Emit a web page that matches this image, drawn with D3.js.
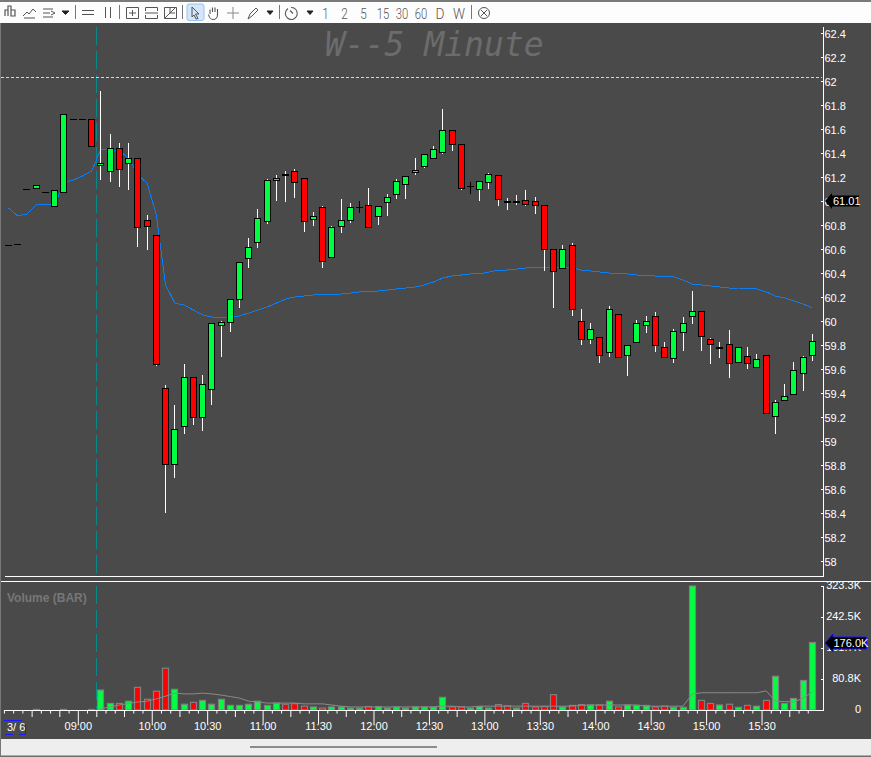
<!DOCTYPE html>
<html><head><meta charset="utf-8">
<script src="https://cdn.jsdelivr.net/npm/d3@7"></script>
<style>html,body{margin:0;padding:0;background:#4a4a4a;overflow:hidden}svg{display:block}</style>
</head><body><div id="chart"></div>
<script>
const opens=[60.633,60.642,61.1,61.1,61.075,60.95,61.067,61.683,61.683,61.683,
61.292,61.242,61.442,61.308,61.358,60.842,60.717,59.442,58.8,59.117,
59.533,59.192,59.425,59.958,59.983,60.175,60.517,60.65,60.825,61.167,
61.217,61.25,61.192,60.842,60.95,60.525,60.783,60.833,60.95,60.967,
60.867,60.983,61.05,61.133,61.233,61.283,61.35,61.4,61.592,61.475,
61.125,61.092,61.15,61.217,60.992,60.992,61.008,61,60.967,60.6,
60.433,60.633,60,59.842,59.867,59.733,60.058,59.708,59.817,59.958,
60.042,59.783,59.683,59.9,60.033,60.083,59.85,59.775,59.808,59.65,
59.708,59.608,59.717,59.2,59.333,59.383,59.558,59.708];
const highs=[60.633,60.642,61.1,61.133,61.075,61.092,61.725,61.683,61.683,61.683,
61.917,61.558,61.483,61.483,61.358,60.883,60.717,59.467,59.3,59.642,
59.533,59.55,59.983,60,60.183,60.492,60.692,60.933,61.183,61.217,
61.25,61.267,61.192,60.908,60.958,60.792,61.017,60.983,61,61.108,
60.958,61.058,61.183,61.208,61.358,61.392,61.458,61.767,61.592,61.475,
61.158,61.167,61.233,61.217,61.025,61.05,61.092,61.033,60.967,60.6,
60.633,60.65,60.1,59.983,59.867,60.125,60.058,59.8,60.008,60.042,
60.075,59.825,59.933,60.033,60.25,60.083,59.858,59.825,59.925,59.783,
59.783,59.725,59.717,59.342,59.475,59.658,59.708,59.892];
const lows=[60.633,60.642,61.1,61.1,61.075,60.95,61.067,61.683,61.683,61.45,
61.175,61.158,61.117,61.092,60.617,60.592,59.625,58.4,58.692,59.058,
59.133,59.083,59.3,59.7,59.908,60.108,60.442,60.608,60.808,61,
60.992,61.025,60.742,60.792,60.442,60.525,60.733,60.817,60.9,60.775,
60.8,60.875,61.017,61.017,61.217,61.275,61.35,61.392,61.417,61.092,
61.058,61,61.1,60.958,60.925,60.967,60.958,60.892,60.417,60.108,
60.433,60.042,59.8,59.808,59.65,59.7,59.692,59.542,59.817,59.9,
59.742,59.692,59.65,59.75,59.975,59.75,59.642,59.692,59.525,59.65,
59.6,59.608,59.225,59.058,59.333,59.383,59.417,59.667];
const closes=[60.633,60.642,61.1,61.133,61.075,61.092,61.725,61.683,61.683,61.45,
61.317,61.442,61.258,61.358,60.775,60.783,59.633,58.8,59.1,59.533,
59.192,59.475,59.983,59.992,60.183,60.492,60.617,60.858,61.175,61.192,
61.217,61.15,60.825,60.875,60.492,60.783,60.842,60.95,60.95,60.775,
60.958,61.033,61.167,61.208,61.258,61.392,61.433,61.592,61.467,61.1,
61.125,61.167,61.225,61.008,60.992,60.992,60.967,60.958,60.592,60.408,
60.6,60.092,59.842,59.933,59.708,60.1,59.692,59.8,59.983,60,
59.792,59.692,59.917,59.983,60.083,59.867,59.8,59.775,59.642,59.783,
59.642,59.683,59.225,59.325,59.375,59.592,59.7,59.833];
const vwap=[60.942,60.875,60.892,60.967,60.967,60.967,61.158,61.175,61.208,61.25,
61.433,61.425,61.417,61.358,61.217,61.15,60.883,60.3,60.15,60.133,
60.092,60.05,60.033,60.033,60.033,60.042,60.067,60.092,60.117,60.15,
60.183,60.2,60.208,60.217,60.217,60.225,60.225,60.233,60.242,60.25,
60.25,60.258,60.267,60.275,60.283,60.3,60.325,60.358,60.375,60.383,
60.392,60.392,60.408,60.425,60.425,60.433,60.442,60.442,60.442,60.442,
60.442,60.442,60.425,60.417,60.408,60.4,60.4,60.392,60.383,60.383,
60.375,60.375,60.367,60.342,60.308,60.3,60.292,60.283,60.275,60.275,
60.267,60.267,60.242,60.208,60.192,60.167,60.142,60.108];
const volumes=[0,0,0,1.5,0,0,1.5,0,0,1.5,
52,17,17,23,59,28,49,109,54,15,
20,25,15,28,12,12,15,23,12,18,
15,16.5,10,8,5,8,8,5,5,9,
9,5,8,5,8,8,8,33,8,8,
5,9,5,14,11,5,17,8,9,40,
8,12,14,13,13,23,8,13,12,12,
8,10,7,7,323.3,25,17,13,15,7,
12,10,25,88,17,30,77,176];
const volumeAvgStart=10;
const volumeAvg=[3,8,13,17,21,23,29,36,44,42,
42,44,42,39,35,31,23,21,18,18,
18,18,16,16,16,13,10,8,8,8,
8,8,8,8,8,8,8,10,10,8,
8,10,10,10,10,10,10,10,10,10,
10,10,12,13,13,13,13,13,13,10,
10,10,10,10,42,45,45,45,45,45,
45,45,50,23,22,21,31,47];
const downDojiVolume=[30,54];
const crossBars=[38,50];
const priceTicks=[62.4,62.2,62,61.8,61.6,61.4,61.2,61,60.8,60.6,60.4,60.2,60,59.8,59.6,59.4,59.2,59,58.8,58.6,58.4,58.2,58];
const volumeTicks=[0,80.8,161.7,242.5,323.3];
const timeTickBars=[8,16,22,28,34,40,46,52,58,64,70,76,82];
const timeTickLabels=["09:00","10:00","10:30","11:00","11:30","12:00","12:30","13:00","13:30","14:00","14:30","15:00","15:30"];
const midTickBars=[3,6,10,13,19,25,31,37,43,49,55,61,67,73,79,85];
const intervalButtons=["1","2","5","15","30","60","D","W"];
const sessionOpenBar=10;
const refLine=62.03, lastPrice=61.01, lastVolume=176;
const title="W--5 Minute", volumeTitle="Volume (BAR)", dateLabel="3/ 6";

const W=871,H=757;
const svg=d3.select("#chart").append("svg").attr("width",W).attr("height",H)
  .style("font-family","'Liberation Sans',Arial,sans-serif");
const x=d3.scaleLinear().domain([0,88]).range([3.9,817]);
const y=d3.scaleLinear().domain([58,62.4]).range([561,33]);
const v=d3.scaleLinear().domain([0,323.3]).range([710,586]);
const GREEN="#00ff41",RED="#ff0000";
const left=i=>Math.round(x(i+.5)-3.5);

svg.append("rect").attr("width",W).attr("height",H).attr("fill","#4a4a4a");

// session line
[[27,573],[586,710]].forEach(r=>svg.append("line").attr("x1",96.5).attr("x2",96.5)
  .attr("y1",r[0]).attr("y2",r[1]).attr("stroke","#048a8a").attr("stroke-width",1).attr("stroke-dasharray","18 6"));
svg.append("line").attr("x1",1).attr("x2",822).attr("y1",Math.round(y(refLine))+.5).attr("y2",Math.round(y(refLine))+.5)
  .attr("stroke","#d8d8d8").attr("stroke-dasharray","3 2");

svg.append("text").attr("x",325).attr("y",56).attr("font-family","'DejaVu Sans Mono',monospace").attr("font-style","italic")
  .attr("font-size",33).attr("fill","#6c6c6c").text(title);

// vwap
svg.append("path").attr("fill","none").attr("stroke","#0a7df2").attr("stroke-width",1).attr("shape-rendering","crispEdges")
  .attr("d",d3.line().x((d,i)=>x(i+.5)).y(d=>y(d))(vwap));

// candles
const bars=d3.range(opens.length);
const g=svg.append("g").attr("shape-rendering","crispEdges");
const withWick=bars.filter(i=>highs[i]!==lows[i]);
g.selectAll(".wick").data(withWick).join("line").attr("class","wick")
  .attr("x1",i=>left(i)+3.5).attr("x2",i=>left(i)+3.5)
  .attr("y1",i=>Math.round(y(highs[i]))).attr("y2",i=>Math.round(y(lows[i])))
  .attr("stroke",i=>crossBars.includes(i)?"#000":"#fff");
const bodies=bars.filter(i=>opens[i]!==closes[i]);
g.selectAll(".body").data(bodies).join("rect").attr("class","body")
  .attr("x",i=>left(i)+.5).attr("width",6)
  .attr("y",i=>Math.round(y(Math.max(opens[i],closes[i])))+.5)
  .attr("height",i=>Math.max(1,Math.round(y(Math.min(opens[i],closes[i])))-Math.round(y(Math.max(opens[i],closes[i])))-1))
  .attr("fill",i=>closes[i]>opens[i]?GREEN:RED).attr("stroke","#000");
const dojis=bars.filter(i=>opens[i]===closes[i]);
g.selectAll(".doji").data(dojis).join("rect").attr("class","doji")
  .attr("x",i=>left(i)).attr("width",7)
  .attr("y",i=>Math.round(y(opens[i]))-(highs[i]!==lows[i]&&!crossBars.includes(i)?1:0))
  .attr("height",i=>highs[i]!==lows[i]&&!crossBars.includes(i)?2:1).attr("fill","#000");

// price axis
const pa=svg.append("g").attr("transform","translate(823,0)")
  .call(d3.axisRight(y).tickValues(priceTicks).tickSizeInner(-2).tickSizeOuter(0).tickPadding(1.5).tickFormat(d3.format("~g")));
pa.select(".domain").remove();
pa.selectAll("line").attr("stroke","#fff");
pa.selectAll("text").attr("fill","#fff").attr("font-size",11).attr("dy","0.42em").attr("font-family","'Liberation Sans',Arial,sans-serif");
svg.append("line").attr("x1",823.5).attr("x2",823.5).attr("y1",27).attr("y2",576.5).attr("stroke","#fff");
svg.append("line").attr("x1",5).attr("x2",824).attr("y1",576.5).attr("y2",576.5).attr("stroke","#fff");
svg.append("line").attr("x1",1).attr("x2",W).attr("y1",581.5).attr("y2",581.5).attr("stroke","#fff");

// volume pane
svg.append("text").attr("x",7).attr("y",601.5).attr("font-weight","bold").attr("font-size",12).attr("fill","#777").text(volumeTitle);
const vbars=bars.filter(i=>volumes[i]>0);
const vg=svg.append("g");
vg.selectAll("rect").data(vbars).join("rect")
  .attr("x",i=>left(i)+.5).attr("width",6)
  .attr("y",i=>v(volumes[i])).attr("height",i=>v(0)-v(volumes[i]))
  .attr("fill",i=>(closes[i]>opens[i]||(closes[i]===opens[i]&&!downDojiVolume.includes(i)))?GREEN:RED)
  .attr("stroke","#808080").attr("stroke-width",1.2);
svg.append("path").attr("fill","none").attr("stroke","#8a8a8a").attr("stroke-width",1)
  .attr("d",d3.line().x((d,i)=>x(i+volumeAvgStart+.5)).y(d=>v(d))(volumeAvg));

const va=svg.append("g").attr("transform","translate(823,0)")
  .call(d3.axisRight(v).tickValues(volumeTicks).tickSizeInner(-2).tickSizeOuter(0).tickPadding(0)
  .tickFormat(d=>d===0?"0":d.toFixed(1)+"K"));
va.select(".domain").remove();
va.selectAll("line").attr("stroke","#fff");
va.selectAll("text").attr("fill","#fff").attr("font-size",11).attr("text-anchor","end").attr("x",38).attr("dy","0.2em")
  .attr("font-family","'Liberation Sans',Arial,sans-serif");
svg.append("line").attr("x1",823.5).attr("x2",823.5).attr("y1",586).attr("y2",710).attr("stroke","#fff");

// time axis
const ta=svg.append("g").attr("transform","translate(0,710)")
  .call(d3.axisBottom(x).tickValues(d3.range(0,88)).tickSize(3.5).tickFormat(d=>{const k=timeTickBars.indexOf(d);return k>=0?timeTickLabels[k]:""}));
ta.select(".domain").remove();
ta.selectAll(".tick line").attr("stroke","#fff").attr("y2",d=>timeTickBars.includes(d)?14:midTickBars.includes(d)?7:3.5);
ta.selectAll(".tick text").attr("fill","#fff").attr("font-size",11).attr("y",12).attr("font-family","'Liberation Sans',Arial,sans-serif");
svg.append("line").attr("x1",4).attr("x2",824).attr("y1",710.5).attr("y2",710.5).attr("stroke","#fff");
svg.append("text").attr("x",7).attr("y",731).attr("fill","#fff").attr("font-size",11).attr("xml:space","preserve").text(dateLabel);
[[4,22,720.5,720.5],[5,13,734.5,734.5],[19,26,734.5,734.5],[25.5,25.5,724,735]].forEach(l=>
  svg.append("line").attr("x1",l[0]).attr("x2",l[1]).attr("y1",l[2]).attr("y2",l[3]).attr("stroke","#1a1aff").attr("stroke-width",1));

// value markers
function marker(cy,tip,headEnd,right,halfH,halfB,stroke,label,tx){
  svg.append("path").attr("d",`M${tip},${cy}L${headEnd},${cy-halfH}V${cy-halfB}H${right}V${cy+halfB}H${headEnd}V${cy+halfH}Z`)
    .attr("fill","#000").attr("stroke",stroke).attr("stroke-width",stroke==="none"?0:1);
  svg.append("text").attr("x",tx).attr("y",cy+4).attr("fill","#fff").attr("font-size",11).text(label);
}
marker(Math.round(y(lastPrice))+1,825,832,859,8,5.5,"none",lastPrice.toFixed(2),833);
marker(Math.round(v(lastVolume))+1,825,833,866.5,9,6,"#1414ff",lastVolume.toFixed(1)+"K",833.5);

// bottom bar
svg.append("rect").attr("x",0).attr("y",739).attr("width",W).attr("height",17).attr("fill","#eeeeee");
svg.append("rect").attr("x",0).attr("y",755.5).attr("width",W).attr("height",2).attr("fill","#6d6d6d");
svg.append("rect").attr("x",250).attr("y",746).attr("width",187).attr("height",2).attr("fill","#8c8c8c");
svg.append("rect").attr("x",0).attr("y",0).attr("width",1).attr("height",H).attr("fill","#777");

// toolbar
const tb=svg.append("g");
tb.append("rect").attr("x",0).attr("y",0).attr("width",W).attr("height",23).attr("fill","#fdfdfd");
tb.append("rect").attr("x",0).attr("y",0).attr("width",W).attr("height",2).attr("fill","#7a7a7a");
const ink="#555";
const p=(d,o={})=>tb.append("path").attr("d",d).attr("fill",o.fill||"none").attr("stroke",o.stroke||ink).attr("stroke-width",o.w||1);
[75.5,119.5,182.5,279.5,471.5].forEach(s=>p(`M${s},5V19`,{stroke:"#777"}));
p("M5,16V10H8V16M8,16V6H11V16M11,16V10H15V16Z",{w:1.2});
p("M23,16L27,12L29,14L33,9L36,12M24,18H35",{w:1});
p("M43,9H53M43,13H50M43,17H53M51,11L55,13L51,15",{w:1});
[[62,69,11,14.5],[267,273,11,14.5],[307,313,11,14.5]].forEach(a=>p(`M${a[0]},${a[2]}H${a[1]}L${(a[0]+a[1])/2},${a[3]}Z`,{fill:"#222",stroke:"#222"}));
p("M82,10.5H94M82,14.5H94");
p("M105.5,7V18M110.5,7V18");
p("M126.5,7.5H138.5V18.5H126.5ZM129,13H136M132.5,10V16");
p("M145.5,7.5H157.5V11M157.5,15V18.5H145.5V15M145.5,11V7.5M145,13H158");
p("M164.5,7.5H176.5V18.5H164.5ZM165,18L175,8M170,8V13H175");
tb.append("rect").attr("x",187).attr("y",4).attr("width",17).attr("height",16.5).attr("rx",2).attr("fill","#d4e6fa").attr("stroke","#98c4ef");
p("M192,7L199,14H195.5L198,18.5L196,19L194,15L192,17Z");
p("M210,14V9.5M212.5,12V7.5M215,12V7.5M217.5,12V9V15C217.5,18 215,19.5 213,19.5C211,19.5 209,17 208.5,14.5",{w:1.1});
p("M227,13H239M233,7V19",{stroke:"#888"});
p("M248,19L250,14L256,8L258,10L252,16Z");
p("M288,8.5A6,6 0 1 0 291,7.5M293,13.5L290,10.5",{w:1.1});
p("M478.5,13a5.5,5.5 0 1 0 11,0a5.5,5.5 0 1 0 -11,0M481,10L487,16M487,10L481,16");
const ix=[325.5,344.5,363.5,383,402,421,440,459];
tb.selectAll(".iv").data(intervalButtons).join("text").attr("class","iv")
  .attr("x",(d,i)=>ix[i]).attr("y",18.5).attr("text-anchor","middle").attr("font-size",15.5)
  .attr("font-family","Roboto,'Liberation Sans Narrow',sans-serif").attr("font-weight",300).attr("fill","#555")
  .attr("textLength",d=>d.length===2?12.5:(d==="W"?12:d==="D"?9:6.5)).attr("lengthAdjust","spacingAndGlyphs").text(d=>d);
</script></body></html>
